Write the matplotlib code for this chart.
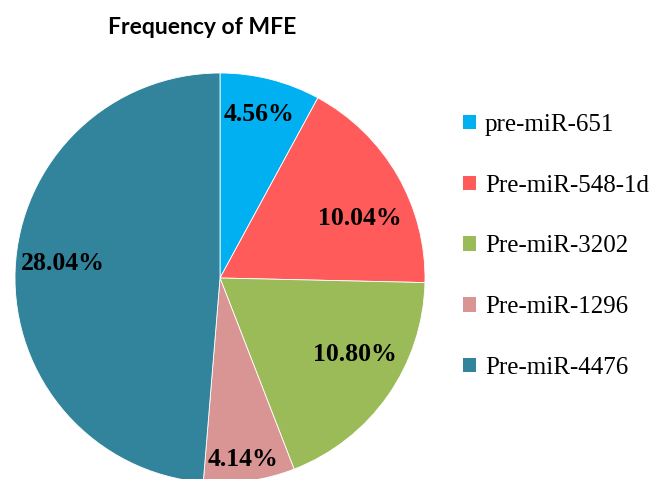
import numpy as np
import matplotlib
matplotlib.use('Agg')
import matplotlib.pyplot as plt
from matplotlib.patches import Patch

# MFE frequency per precursor
names = ['pre-miR-651', 'Pre-miR-548-1d', 'Pre-miR-3202', 'Pre-miR-1296', 'Pre-miR-4476']
freq = [4.56, 10.04, 10.80, 4.14, 28.04]
colors = ['#00B0F0', '#FF5B5B', '#9BBB59', '#D99594', '#31849B']
# label placement inside each wedge: radius (fraction of R) and position along the arc
label_r = [0.83, 0.745, 0.75, 0.88, 0.77]
label_t = [0.47, 0.60, 0.41, 0.54, 0.52]

fig = plt.figure(figsize=(6.54, 4.79), dpi=100)
ax = fig.add_axes([15 / 654, -4 / 479, 410 / 654, 410 / 479])

wedges, _ = ax.pie(freq, colors=colors, startangle=90, counterclock=False,
                   wedgeprops={'edgecolor': 'white', 'linewidth': 0.6})
ax.set_xlim(-1, 1)
ax.set_ylim(-1, 1)
ax.set_aspect('equal')

for w, val, r, t in zip(wedges, freq, label_r, label_t):
    # clockwise wedges: theta2 is where the slice starts
    ang = np.deg2rad(w.theta2 + (w.theta1 - w.theta2) * t)
    ax.text(r * np.cos(ang), r * np.sin(ang) - 0.01, '%.2f%%' % val,
            ha='center', va='center', fontsize=18.5, fontweight='bold',
            family='Liberation Serif', color='black')

fig.text(202 / 654, 1 - 28 / 479, 'Frequency of MFE', ha='center', va='center',
         fontsize=16.5, fontweight='bold', family='Lato')

handles = [Patch(facecolor=c, edgecolor='none') for c in colors]
fig.legend(handles, names, loc='upper left', bbox_to_anchor=(463 / 654, 1 - 114 / 479),
           frameon=False, prop={'family': 'Liberation Serif', 'size': 18},
           borderaxespad=0, borderpad=0,
           handlelength=0.52, handleheight=0.52, handletextpad=0.36, labelspacing=1.55)

fig.savefig('out.png', dpi=100)
